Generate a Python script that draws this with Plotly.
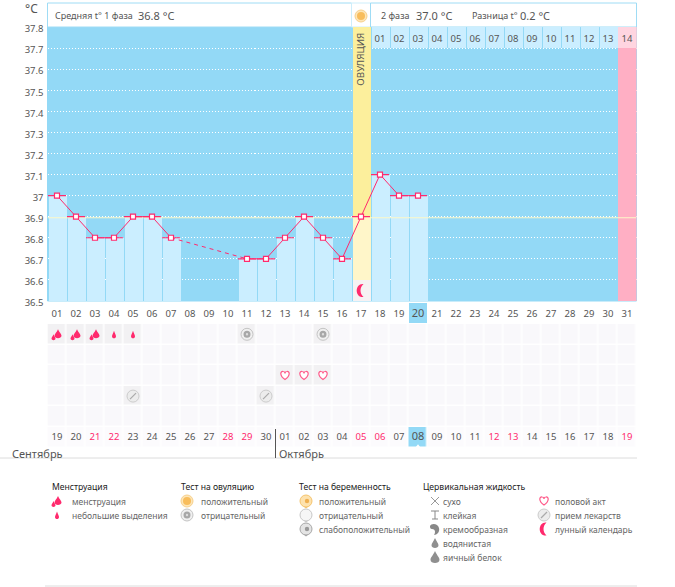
import plotly.graph_objects as go

W, H = 675, 587
FONT = "Noto Sans"
GREY = "#555555"
PINK = "#ff2a6d"
SKY = "#93d9f6"

# --- data ---
days = list(range(1, 32))
temps = [37.0, 36.9, 36.8, 36.8, 36.9, 36.9, 36.8, None, None, None, 36.7, 36.7, 36.8, 36.9, 36.8, 36.7,
         36.9, 37.1, 37.0, 37.0, None, None, None, None, None, None, None, None, None, None, None]
y_ticks = [37.8, 37.7, 37.6, 37.5, 37.4, 37.3, 37.2, 37.1, 37.0, 36.9, 36.8, 36.7, 36.6, 36.5]
y_labels = ["37.8", "37.7", "37.6", "37.5", "37.4", "37.3", "37.2", "37.1", "37", "36.9", "36.8", "36.7", "36.6", "36.5"]
cover_temp = 36.9
today = 20
ovulation_day = 17
phase2_days = [18, 19, 20, 21, 22, 23, 24, 25, 26, 27, 28, 29, 30]
phase2_labels = ["01", "02", "03", "04", "05", "06", "07", "08", "09", "10", "11", "12", "13"]
last_day = 31
last_label = "14"

dates = ["19", "20", "21", "22", "23", "24", "25", "26", "27", "28", "29", "30",
         "01", "02", "03", "04", "05", "06", "07", "08", "09", "10", "11", "12", "13", "14", "15", "16", "17", "18", "19"]
weekend_days = [3, 4, 10, 11, 17, 18, 24, 25, 31]

heavy_days = [1, 2, 3]
spotting_days = [4, 5]
ovul_neg_days = [11, 15]
sex_days = [13, 14, 15]
pill_days = [5, 12]
moon_days = [17]


# --- helpers ---
def fx(px):
    return px / W


def fy(py):
    return 1 - py / H


def label(px, py, text, size=9.5, color=GREY, anchor="left"):
    # annotations keep a 2px padding on their left side
    return dict(x=fx(px - 2), y=fy(py), xref="paper", yref="paper", text=text, showarrow=False,
                xanchor=anchor, yanchor="middle", font=dict(family=FONT, size=size, color=color))


def box(x0, y0, x1, y1, fill, line=None):
    return dict(type="rect", xref="paper", yref="paper", x0=fx(x0), x1=fx(x1), y0=fy(y0), y1=fy(y1),
                fillcolor=fill, line=dict(color=line or fill, width=1), layer="below")


def drop(cx, top, bottom, w):
    h = top - bottom
    return (f"M{cx},{top} C{cx + w * .4},{top - h * .35} {cx + w},{bottom + h * .45} {cx + w},{bottom + h * .28} "
            f"C{cx + w},{bottom - h * .08} {cx - w},{bottom - h * .08} {cx - w},{bottom + h * .28} "
            f"C{cx - w},{bottom + h * .45} {cx - w * .4},{top - h * .35} {cx},{top} Z")


def pixel_path(path, x, y, xref, yref, fill="rgba(0,0,0,0)", line=None, width=1):
    return dict(type="path", path=path, xref=xref, yref=yref, xsizemode="pixel", ysizemode="pixel",
                xanchor=x, yanchor=y, fillcolor=fill, line=dict(color=line or "rgba(0,0,0,0)", width=width))


def pixel_circle(r, x, y, xref, yref, fill, line=None, dx=0, dy=0):
    return dict(type="circle", xref=xref, yref=yref, xsizemode="pixel", ysizemode="pixel", xanchor=x, yanchor=y,
                x0=dx - r, x1=dx + r, y0=dy - r, y1=dy + r, fillcolor=fill,
                line=dict(color=line or "rgba(0,0,0,0)", width=1))


def icon(kind, x, y, xref, yref):
    a = (x, y, xref, yref)
    if kind == "heavy":
        return [pixel_path(drop(1, 5, -4, 3.5), *a, fill=PINK), pixel_path(drop(-3.5, 0, -6, 2), *a, fill=PINK)]
    if kind == "spot":
        return [pixel_path(drop(0, 3.5, -4, 2), *a, fill=PINK)]
    if kind == "ov_pos":
        return [pixel_circle(6, *a, "#fde6b8", "#f7d08c"), pixel_circle(4, *a, "#f8bd5c")]
    if kind == "ov_neg":
        return [pixel_circle(6, *a, "#f0f0f0", "#c4c4c4"), pixel_circle(3.5, *a, "#a8a8a8"), pixel_circle(1.2, *a, "#dddddd")]
    if kind.startswith("preg"):
        fill, edge, inner = {"preg_pos": ("#fde2ae", "#f5c46e", "#f0b050"),
                             "preg_neg": ("#f6f6f6", "#c8c8c8", "#f6f6f6"),
                             "preg_weak": ("#e4e4e4", "#a8a8a8", "#999999")}[kind]
        return [pixel_path("M-3,-5 L0,-7.5 L3,-5 Z", *a, fill=edge), pixel_circle(6, *a, fill, edge),
                pixel_circle(2.2, *a, inner, dx=1, dy=0)]
    if kind == "pill":
        return [pixel_circle(6, *a, "#ececec", "#cccccc"), pixel_path("M-3,-3 L3,3", *a, line="#aaaaaa", width=1.2)]
    if kind == "moon":
        return [pixel_path("M2.5,6.5 C-6.5,7.5 -6.5,-7.5 2.5,-6.5 C-1.5,-3 -1.5,3 2.5,6.5 Z", *a, fill=PINK)]
    if kind == "heart":
        return [pixel_path("M0,-4 C-6,0 -4.5,4.5 -2,4 C-1,4 0,3 0,2 C0,3 1,4 2,4 C4.5,4.5 6,0 0,-4 Z",
                           *a, fill="#ffffff", line="#ff5a8a", width=1.2)]
    if kind == "dry":
        return [pixel_path("M-4,4 L4,-4 M-4,-4 L4,4", *a, line="#999999")]
    if kind == "sticky":
        return [pixel_path("M-4,4 L4,4 M0,4 L0,-4 M-3,-4 L3,-4", *a, line="#888888")]
    if kind == "creamy":
        return [pixel_path("M-5,3 C-4,6 3,6 4,1 C5,-3 2,-6 -1,-6 C1,-3 0,0 -3,0 C-5,0 -5,2 -5,3 Z", *a, fill="#888888")]
    if kind == "watery":
        return [pixel_path(drop(0, 5, -5, 3.5), *a, fill="#8f8f8f")]
    if kind == "egg":
        return [pixel_path(drop(0, 6, -6, 4.5), *a, fill="#8f8f8f")]
    return []


# --- chart traces ---
fig = go.Figure()
x_range = [0.5, 31.5]
y_min, y_max = y_ticks[-1], y_ticks[0]
bar_w = 18 / 19

# ovulation column and last day column
fig.add_bar(x=[ovulation_day], y=[y_max - y_min], base=[y_min], width=bar_w, marker=dict(color="#fcef9c", line_width=0))
fig.add_bar(x=[last_day], y=[y_max - y_min], base=[y_min], width=1, marker=dict(color="#ffafc4", line_width=0))

# temperature columns
bar_x = [d for d, t in zip(days, temps) if t is not None]
bar_t = [t for t in temps if t is not None]
bar_col = ["#fff6c9" if d == ovulation_day else "#cbeeff" for d in bar_x]
fig.add_bar(x=bar_x, y=[t - y_min for t in bar_t], base=[y_min] * len(bar_x), width=bar_w,
            marker=dict(color=bar_col, line_width=0))
fig.add_bar(x=moon_days, y=[y_ticks[-2] - y_min] * len(moon_days), base=[y_min] * len(moon_days), width=bar_w,
            marker=dict(color="#f6f2f3", line_width=0))

# second phase day numbers on top of the plot
top_base = y_ticks[1]
fig.add_bar(x=phase2_days, y=[y_max - top_base] * len(phase2_days), base=[top_base] * len(phase2_days), width=bar_w,
            marker=dict(color="#cbeeff", line_width=0))
fig.add_bar(x=[last_day], y=[y_max - top_base], base=[top_base], width=1, marker=dict(color="#ffd5e0", line_width=0))
fig.add_scatter(x=phase2_days + [last_day], y=[(y_max + top_base) / 2 - 0.01] * (len(phase2_days) + 1), mode="text",
                text=phase2_labels + [last_label], textfont=dict(family=FONT, size=9.5, color=GREY))

# cover line
fig.add_scatter(x=x_range, y=[cover_temp - 0.005] * 2, mode="lines", line=dict(color="#fdf8c8", width=1))

# dashed gap in measurements
gap_x, gap_y = [], []
for i, t in enumerate(temps[:-1]):
    if t is not None and temps[i + 1] is None:
        later = [j for j in range(i + 1, len(temps)) if temps[j] is not None]
        if later:
            gap_x += [days[i], days[later[0]], None]
            gap_y += [t, temps[later[0]], None]
fig.add_scatter(x=gap_x, y=gap_y, mode="lines", line=dict(color=PINK, width=1, dash="4px,4px"))

# temperature line, with a red cap over each column
err = [bar_w / 2 if t is not None else 0 for t in temps]
fig.add_scatter(x=days, y=temps, mode="lines+markers", line=dict(color=PINK, width=1),
                marker=dict(symbol="square", size=5, color="white", line=dict(color=PINK, width=1.2)),
                error_x=dict(type="data", array=err, thickness=1.2, width=0, color=PINK))

# --- event grid ---
rows = [0, 1, 2, 3, 4, 5]
cells = [[0 for _ in days] for _ in rows]
for d in heavy_days + spotting_days + ovul_neg_days:
    cells[0][d - 1] = 1
for d in sex_days:
    cells[2][d - 1] = 1
for d in pill_days:
    cells[3][d - 1] = 1
cells[5] = [2 for _ in days]
cells[5][today - 1] = 3
fig.add_heatmap(x=days, y=rows, z=cells, xaxis="x2", yaxis="y2", xgap=1.5, ygap=1.5, showscale=False, zmin=0, zmax=3,
                colorscale=[[0, "#f9f8fb"], [0.25, "#f9f8fb"], [0.25, "#f2f1f3"], [0.5, "#f2f1f3"],
                            [0.5, "#fcfbfd"], [0.75, "#fcfbfd"], [0.75, SKY], [1, SKY]], hoverinfo="skip")
date_sizes = [11 if d == today else 9.5 for d in days]
date_cols = [PINK if d in weekend_days else GREY for d in days]
fig.add_scatter(x=days, y=[rows[-1]] * len(days), mode="text", text=dates, xaxis="x2", yaxis="y2",
                textfont=dict(family=FONT, size=date_sizes, color=date_cols))
# small white pointer under today's date
fig.add_scatter(x=[today], y=[rows[-1] + 0.44], mode="markers", xaxis="x2", yaxis="y2",
                marker=dict(symbol="triangle-up", size=4, color="white"))

shapes = [
    box(47.5, 27, 636.5, 301, SKY),
    box(47.5, 3, 351.5, 27, "white", "#9fdcf5"),
    box(351.5, 3, 370.5, 27, "white", "#cdeefb"),
    box(370.5, 3, 636.5, 27, "white", "#9fdcf5"),
    box(0, 458, 637, 458, "#e8e8e8"),
    box(45, 586, 637, 586, "#e8e8e8"),
]
# highlighted day under the plot
shapes.append(dict(type="rect", xref="x", yref="paper", x0=today - bar_w / 2, x1=today + bar_w / 2,
                   y0=fy(323), y1=fy(303), fillcolor=SKY, line_width=0, layer="below"))
# month divider
month_break = dates.index("01") + 0.5
shapes.append(dict(type="line", xref="x", yref="paper", x0=month_break, x1=month_break, y0=fy(429), y1=fy(458),
                   line=dict(color="#555555", width=1)))

for d in heavy_days:
    shapes += icon("heavy", d, 0, "x2", "y2")
for d in spotting_days:
    shapes += icon("spot", d, 0, "x2", "y2")
for d in ovul_neg_days:
    shapes += icon("ov_neg", d, 0, "x2", "y2")
for d in sex_days:
    shapes += icon("heart", d, 2, "x2", "y2")
for d in pill_days:
    shapes += icon("pill", d, 3, "x2", "y2")
for d in moon_days:
    shapes += icon("moon", d, (y_ticks[-1] + y_ticks[-2]) / 2, "x", "y")
shapes += icon("ov_pos", fx(361), fy(16), "paper", "paper")

# --- texts ---
annotations = [
    label(42, 8, "°C", size=12, anchor="right"),
    label(55, 15.5, "Средняя t° 1 фаза", size=9),
    label(138, 15.5, "36.8 °C", size=11),
    label(381, 15.5, "2 фаза", size=9),
    label(416, 15.5, "37.0 °C", size=11),
    label(472, 15.5, "Разница t°", size=9),
    label(520, 15.5, "0.2 °C", size=11),
    label(12, 453, "Сентябрь", size=11),
    label(279, 453, "Октябрь", size=11),
    dict(x=ovulation_day, y=37.645, xref="x", yref="y", text="ОВУЛЯЦИЯ", textangle=-90, showarrow=False,
         font=dict(family=FONT, size=9.8, color=GREY)),
]

# legend is laid out by hand like on the site
legend_groups = [
    (52, 57, 72, "Менструация", [("heavy", "менструация"), ("spot", "небольшие выделения")]),
    (181, 187, 201, "Тест на овуляцию", [("ov_pos", "положительный"), ("ov_neg", "отрицательный")]),
    (299, 306, 319, "Тест на беременность", [("preg_pos", "положительный"), ("preg_neg", "отрицательный"),
                                            ("preg_weak", "слабоположительный")]),
    (423, 435, 443, "Цервикальная жидкость", [("dry", "сухо"), ("sticky", "клейкая"), ("creamy", "кремообразная"),
                                             ("watery", "водянистая"), ("egg", "яичный белок")]),
    (None, 544, 555, None, [("heart", "половой акт"), ("pill", "прием лекарств"), ("moon", "лунный календарь")]),
]
for title_x, icon_x, text_x, title, items in legend_groups:
    if title:
        annotations.append(label(title_x, 487, title, size=8.6, color="#222222"))
    for i, (kind, text) in enumerate(items):
        py = 501 + 14 * i
        shapes += icon(kind, fx(icon_x), fy(py), "paper", "paper")
        annotations.append(label(text_x, py, text, size=8.5, color="#666666"))

tick_text = [f'<span style="font-size:11px">{d:02d}</span>' if d == today else f"{d:02d}" for d in days]

fig.update_layout(
    width=W, height=H, autosize=False,
    margin=dict(l=0, r=0, t=0, b=0, pad=0, autoexpand=False),
    paper_bgcolor="white", plot_bgcolor="white",
    showlegend=False, barmode="overlay", bargap=0,
    font=dict(family=FONT, size=9.5, color=GREY),
    shapes=shapes, annotations=annotations,
    xaxis=dict(domain=[fx(47.5), fx(636.5)], range=x_range, tickmode="array", tickvals=days, ticktext=tick_text,
               showgrid=False, zeroline=False, ticks="", ticklabelstandoff=5, tickfont=dict(family=FONT, size=9.5, color=GREY)),
    yaxis=dict(domain=[fy(301), fy(27)], range=[y_min, y_max], tickmode="array", tickvals=y_ticks, ticktext=y_labels,
               showgrid=True, gridcolor="white", griddash="1px,2px", gridwidth=1, zeroline=False, ticks="",
               ticklabelstandoff=3, ticklabelshift=2, tickfont=dict(family=FONT, size=9.5, color=GREY)),
    xaxis2=dict(domain=[fx(47.5), fx(636.5)], range=x_range, anchor="y2", showticklabels=False, showgrid=False,
                zeroline=False, ticks=""),
    yaxis2=dict(domain=[fy(447.6), fy(324)], range=[5.5, -0.5], anchor="x2", showticklabels=False, showgrid=False,
                zeroline=False, ticks=""),
)

# the page margin would push the chart away from the window corner
fig.write_html("out.html", config=dict(displayModeBar=False),
               post_script="document.body.style.margin='0'; document.body.style.overflow='hidden';")
